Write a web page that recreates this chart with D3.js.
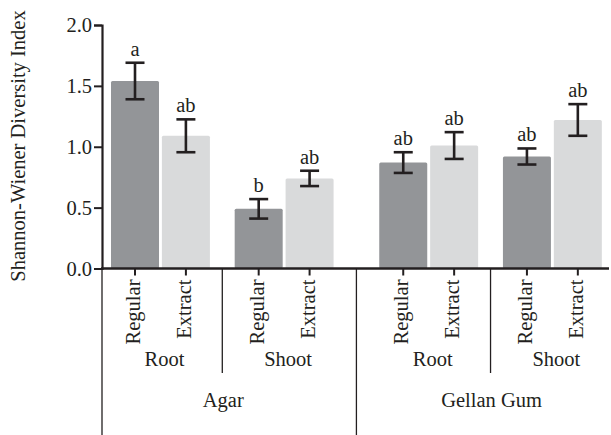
<!DOCTYPE html>
<html>
<head>
<meta charset="utf-8">
<script src="https://cdn.jsdelivr.net/npm/d3@7"></script>
<style>
  body { margin: 0; background: #fff; }
  svg text { font-family: "Liberation Serif", "Times New Roman", serif; fill: #231f20; }
</style>
</head>
<body>
<svg id="chart" width="611" height="435"></svg>
<script>
// data
const media = ["Agar", "Gellan Gum"];
const tissues = ["Root", "Shoot"];
const treatments = ["Regular", "Extract"];
const means = [1.54, 1.09, 0.49, 0.74, 0.87, 1.01, 0.92, 1.22];
const errors = [0.15, 0.135, 0.08, 0.063, 0.085, 0.11, 0.066, 0.13];
const letters = ["a", "ab", "b", "ab", "ab", "ab", "ab", "ab"];
const yTicks = [0, 0.5, 1.0, 1.5, 2.0];

const colors = { Regular: "#939598", Extract: "#d9dadb" };

const svg = d3.select("#chart");
const height = 435;
const fs = 20.5;

// slot layout: pairs of bars, extra space between tissues and between media
const subGap = 0.43, groupGap = 0.84;
const bars = [];
media.forEach((m, gi) => {
  tissues.forEach((t, si) => {
    treatments.forEach((tr, ti) => {
      const i = bars.length;
      const slot = i + subGap * (gi + si) + groupGap * gi;
      bars.push({ medium: m, tissue: t, treatment: tr, slot: slot,
        mean: means[i], err: errors[i], letter: letters[i] });
    });
  });
});

const x = d3.scaleLinear().domain([0, 1]).range([135, 185.9]);
const y = d3.scaleLinear().domain([0, 2]).range([268.5, 25]);
const barWidth = 48;
const axisX = 102;
const axisEnd = 609;

// bars
svg.append("g")
  .selectAll("rect")
  .data(bars)
  .join("rect")
  .attr("x", d => x(d.slot) - barWidth / 2)
  .attr("y", d => y(d.mean))
  .attr("width", barWidth)
  .attr("height", d => y(0) - y(d.mean))
  .attr("rx", 1.5)
  .attr("fill", d => colors[d.treatment]);

// error bars
const eb = svg.append("g")
  .attr("stroke", "#231f20")
  .attr("stroke-width", 2.6)
  .selectAll("g")
  .data(bars)
  .join("g");
eb.append("line")
  .attr("x1", d => x(d.slot)).attr("x2", d => x(d.slot))
  .attr("y1", d => y(d.mean + d.err)).attr("y2", d => y(d.mean - d.err));
eb.append("line")
  .attr("x1", d => x(d.slot) - 9.5).attr("x2", d => x(d.slot) + 9.5)
  .attr("y1", d => y(d.mean + d.err)).attr("y2", d => y(d.mean + d.err));
eb.append("line")
  .attr("x1", d => x(d.slot) - 9.5).attr("x2", d => x(d.slot) + 9.5)
  .attr("y1", d => y(d.mean - d.err)).attr("y2", d => y(d.mean - d.err));

// significance letters
svg.append("g")
  .selectAll("text")
  .data(bars)
  .join("text")
  .attr("x", d => x(d.slot))
  .attr("y", d => y(d.mean + d.err) - 7)
  .attr("text-anchor", "middle")
  .attr("font-size", fs)
  .text(d => d.letter);

// y axis
const yAxis = svg.append("g")
  .attr("transform", "translate(" + axisX + ",0)")
  .call(d3.axisLeft(y).tickValues(yTicks).tickFormat(d3.format(".1f")).tickSizeOuter(0).tickSize(8).tickPadding(2));
yAxis.select(".domain").attr("stroke", "#231f20").attr("stroke-width", 2.2);
yAxis.selectAll(".tick line").attr("stroke", "#231f20").attr("stroke-width", 2);
yAxis.selectAll(".tick text")
  .attr("font-size", fs)
  .attr("font-family", "Liberation Serif, serif")
  .attr("fill", "#231f20");

// x axis line and treatment ticks
svg.append("line")
  .attr("x1", axisX - 1).attr("x2", axisEnd)
  .attr("y1", y(0)).attr("y2", y(0))
  .attr("stroke", "#231f20").attr("stroke-width", 2.4);

const xt = svg.append("g")
  .selectAll("g")
  .data(bars)
  .join("g")
  .attr("transform", d => "translate(" + x(d.slot) + "," + y(0) + ")");
xt.append("line")
  .attr("y1", 0).attr("y2", 7)
  .attr("stroke", "#231f20").attr("stroke-width", 2);
xt.append("text")
  .attr("transform", "translate(5,11) rotate(-90)")
  .attr("text-anchor", "end")
  .attr("font-size", fs)
  .text(d => d.treatment);

// separators
const tissueGroups = d3.groups(bars, d => d.medium, d => d.tissue);
const sepY = svg.append("g").attr("stroke", "#231f20").attr("stroke-width", 1.3);
sepY.append("line")
  .attr("x1", axisX).attr("x2", axisX)
  .attr("y1", y(0)).attr("y2", height);

const tissueLabels = [];
const mediumLabels = [];
tissueGroups.forEach(([m, ts], gi) => {
  const all = ts.flatMap(t => t[1]);
  const left = x(all[0].slot) - barWidth / 2;
  const right = x(all[all.length - 1].slot) + barWidth / 2;
  mediumLabels.push({ name: m, cx: (left + right) / 2 + 1 });
  // tissue separator
  const rootRight = x(ts[0][1][1].slot) + barWidth / 2;
  const shootLeft = x(ts[1][1][0].slot) - barWidth / 2;
  const sx = (rootRight + shootLeft) / 2;
  sepY.append("line")
    .attr("x1", sx).attr("x2", sx)
    .attr("y1", y(0)).attr("y2", 373);
  ts.forEach(([t, bs], si) => {
    const l = x(bs[0].slot), r = x(bs[1].slot);
    tissueLabels.push({ name: t, cx: (l + r) / 2 + 4 });
  });
  if (gi === 0) {
    const nextLeft = x(tissueGroups[1][1][0][1][0].slot) - barWidth / 2;
    const gx = (right + nextLeft) / 2;
    sepY.append("line")
      .attr("x1", gx).attr("x2", gx)
      .attr("y1", y(0)).attr("y2", height);
  }
});

svg.append("g")
  .selectAll("text")
  .data(tissueLabels)
  .join("text")
  .attr("x", d => d.cx)
  .attr("y", 366)
  .attr("text-anchor", "middle")
  .attr("font-size", fs)
  .text(d => d.name);

svg.append("g")
  .selectAll("text")
  .data(mediumLabels)
  .join("text")
  .attr("x", d => d.cx)
  .attr("y", 407)
  .attr("text-anchor", "middle")
  .attr("font-size", fs)
  .text(d => d.name);

// y axis title
svg.append("text")
  .attr("transform", "translate(25,146) rotate(-90)")
  .attr("text-anchor", "middle")
  .attr("font-size", 20.5)
  .text("Shannon-Wiener Diversity Index");
</script>
</body>
</html>
